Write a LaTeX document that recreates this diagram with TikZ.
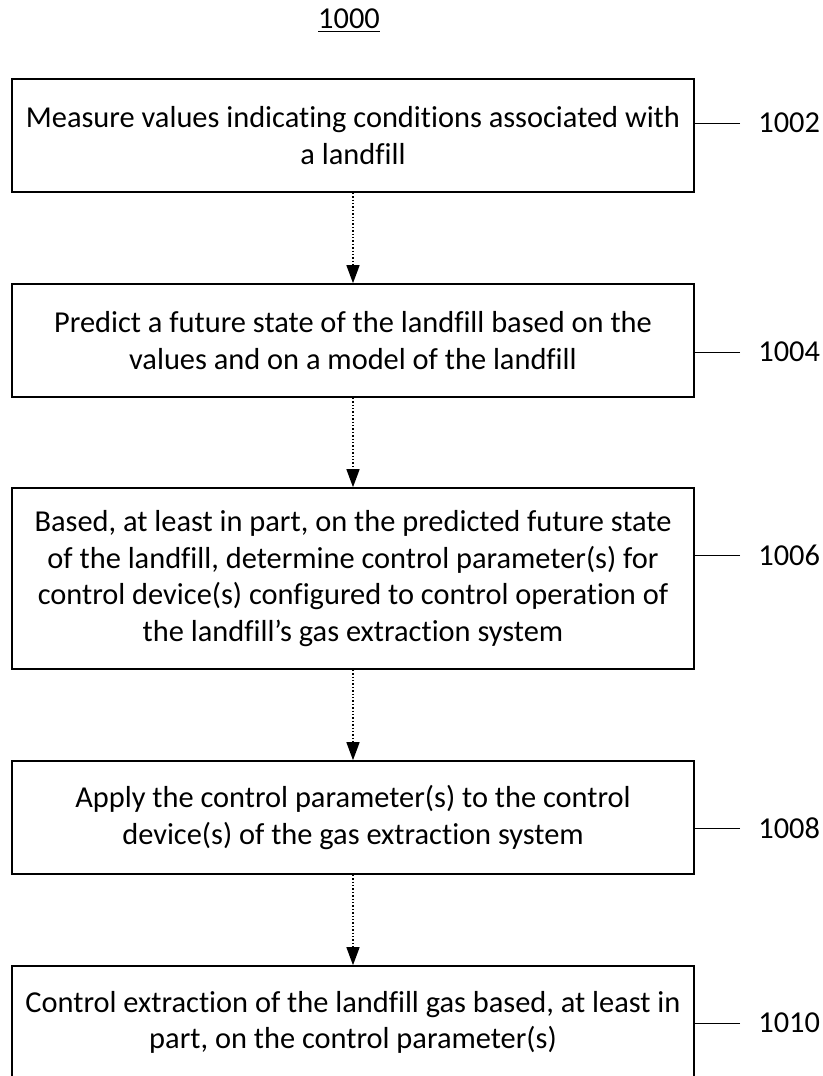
\documentclass[tikz,border=0pt]{standalone}
\usepackage{fontspec}
\setmainfont{Carlito}[Ligatures=NoCommon]
\usepackage{tikz}
\usetikzlibrary{positioning,arrows.meta}

\begin{document}
\begin{tikzpicture}[x=0.5pt,y=-0.5pt,
    every node/.style={font=\fontsize{15.2}{18.3}\selectfont},
    stepbox/.style={draw,line width=0.8pt,minimum width=341pt,align=center,inner sep=0pt},
    flow/.style={densely dotted,line width=0.7pt,-{Triangle[width=6.5pt,length=9pt]}},
    leader/.style={line width=0.5pt}]

    \useasboundingbox (0,0) rectangle (823,1076);

    \node (title) at (349,21) {\underline{1000}};

    \node[stepbox,minimum height=56.5pt] (s1002) at (353,135.5)
        {Measure values indicating conditions associated with\\a landfill};
    \node[stepbox,minimum height=56.5pt] (s1004) at (353,340.5)
        {Predict a future state of the landfill based on the\\values and on a model of the landfill};
    \node[stepbox,minimum height=90.5pt] (s1006) at (353,578.5)
        {Based, at least in part, on the predicted future state\\of the landfill, determine control parameter(s) for\\control device(s) configured to control operation of\\the landfill’s gas extraction system};
    \node[stepbox,minimum height=56.5pt] (s1008) at (353,817.5)
        {Apply the control parameter(s) to the control\\device(s) of the gas extraction system};
    \node[stepbox,minimum height=56.5pt] (s1010) at (353,1022.5)
        {Control extraction of the landfill gas based, at least in\\part, on the control parameter(s)};

    \node[anchor=west,inner sep=0pt] (n1002) at (758,123) {1002};
    \node[anchor=west,inner sep=0pt] (n1004) at (758,352) {1004};
    \node[anchor=west,inner sep=0pt] (n1006) at (758,555) {1006};
    \node[anchor=west,inner sep=0pt] (n1008) at (758,828) {1008};
    \node[anchor=west,inner sep=0pt] (n1010) at (758,1023) {1010};

    \draw[flow] (s1002) -- (s1004);
    \draw[flow] (s1004) -- (s1006);
    \draw[flow] (s1006) -- (s1008);
    \draw[flow] (s1008) -- (s1010);

    \draw[leader,shorten <=9pt] (n1002.west) -- (s1002.east |- n1002.west);
    \draw[leader,shorten <=9pt] (n1004.west) -- (s1004.east |- n1004.west);
    \draw[leader,shorten <=9pt] (n1006.west) -- (s1006.east |- n1006.west);
    \draw[leader,shorten <=9pt] (n1008.west) -- (s1008.east |- n1008.west);
    \draw[leader,shorten <=9pt] (n1010.west) -- (s1010.east |- n1010.west);

\end{tikzpicture}
\end{document}
